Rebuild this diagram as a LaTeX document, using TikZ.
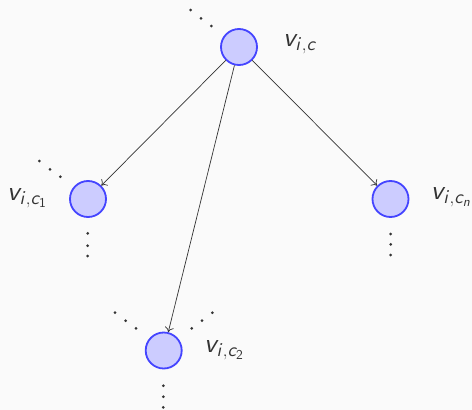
\documentclass[tikz,border=0pt]{standalone}
\usetikzlibrary{arrows.meta}
% scalable Computer Modern Sans shapes for the vertex labels
\DeclareFontFamily{OT1}{vsans}{}
\DeclareFontShape{OT1}{vsans}{m}{n}{<-> cmss10}{}
\DeclareFontShape{OT1}{vsans}{m}{sl}{<-> cmssi10}{}
\DeclareMathAlphabet{\mathsfit}{OT1}{vsans}{m}{sl}
\DeclareMathAlphabet{\mathsfup}{OT1}{vsans}{m}{n}
\definecolor{bgcol}{HTML}{FAFAFA}
\definecolor{inkcol}{HTML}{333333}
\definecolor{vfill}{HTML}{CCCCFF}
\definecolor{vdraw}{HTML}{4444FF}
\newcommand{\vlab}[1]{$\mathsfit{v}_{#1}$}
\begin{document}
\begin{tikzpicture}[x=1pt,y=-1pt,
  vertex/.style={circle,fill=vfill,draw=vdraw,line width=1.8pt,minimum size=36pt,inner sep=0pt},
  vlabel/.style={text=inkcol,font=\fontsize{27}{32}\selectfont,inner sep=0pt},
  edge/.style={draw=inkcol,line width=0.7pt,-{To[length=5pt,width=9pt]}},
  dot/.style={fill=inkcol,draw=none,circle,inner sep=0pt,minimum size=3pt}]
  \fill[bgcol] (0,0) rectangle (472,410);
  \useasboundingbox (0,0) rectangle (472,410);

  % vertices
  \node[vertex] (c)  at (239,47)    {};
  \node[vertex] (c1) at (88,199)    {};
  \node[vertex] (c2) at (163.7,350.5) {};
  \node[vertex] (cn) at (390.5,199) {};

  % labels
  \node[vlabel] (lc)  at (300,44)  {\vlab{\mathsfit{i},\mathsfit{c}}};
  \node[vlabel] (lc1) at (27,198)  {\vlab{\mathsfit{i},\mathsfit{c}_{\mathsfup{1}}}};
  \node[vlabel] (lc2) at (224,350) {\vlab{\mathsfit{i},\mathsfit{c}_{\mathsfup{2}}}};
  \node[vlabel] (lcn) at (451,197) {\vlab{\mathsfit{i},\mathsfit{c}_{\mathsfit{n}}}};

  % edges
  \draw[edge] (c) -- (c1);
  \draw[edge] (c) -- (c2);
  \draw[edge] (c) -- (cn);

  % ellipsis dots
  \foreach \p [count=\k] in {(190.7,10),(201,18.3),(211.3,26),
      (39.3,161),(50,169.3),(60.3,176.7),
      (87.7,233.3),(87.7,245.7),(87.7,256),
      (390.7,234),(390.7,244.3),(390.7,255),
      (115,312.7),(125.7,320.7),(136,328.3),
      (191.7,328.3),(202,320.7),(212.3,312.7),
      (163.3,385.7),(163.3,396.7),(163.3,407.3)}
    \node[dot] (d\k) at \p {};
\end{tikzpicture}
\end{document}
